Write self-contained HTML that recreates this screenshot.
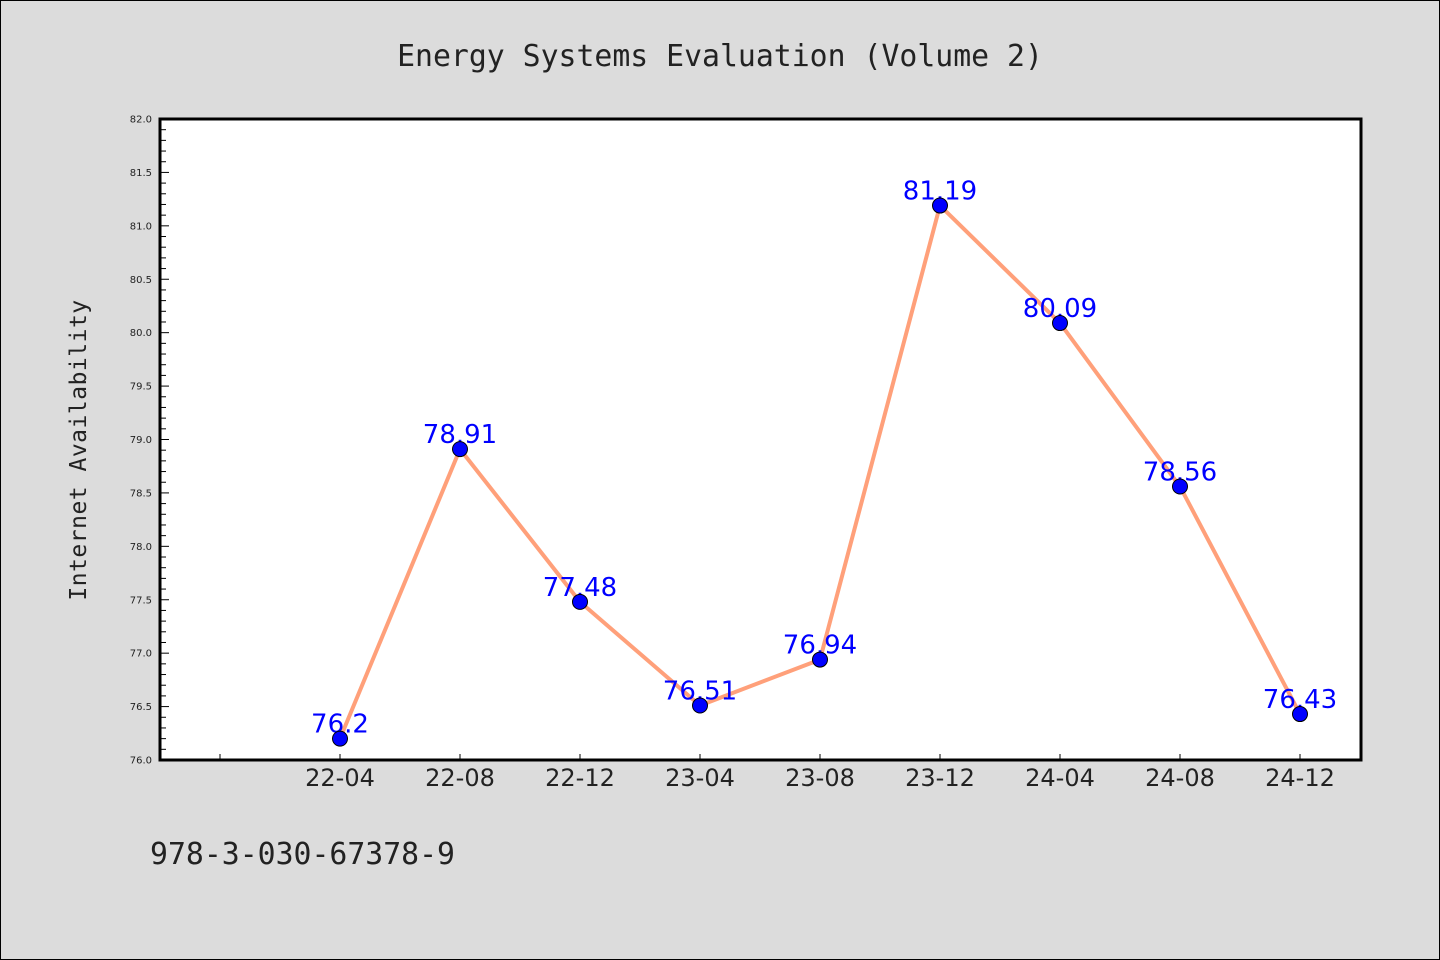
<!DOCTYPE html>
<html><head><meta charset="utf-8"><style>
body{margin:0;background:#dcdcdc;}
svg{display:block;font-family:"DejaVu Sans","Liberation Sans",sans-serif;}
</style></head><body>
<svg id="chart" width="1440" height="960">
<rect x="0.5" y="0.5" width="1439" height="959" fill="#dcdcdc" stroke="#000"/>
<text x="720" y="66" text-anchor="middle" font-size="29.8" fill="#222" font-family="'DejaVu Sans Mono','Liberation Mono',monospace">Energy Systems Evaluation (Volume 2)</text>
<rect x="160" y="119" width="1201" height="641" fill="#fff"/>
<text transform="translate(86,450) rotate(-90)" text-anchor="middle" font-size="23" fill="#222" font-family="'DejaVu Sans Mono','Liberation Mono',monospace" letter-spacing="0.5">Internet Availability</text>
<text x="150" y="864" font-size="29.8" fill="#222" font-family="'DejaVu Sans Mono','Liberation Mono',monospace">978-3-030-67378-9</text>
<g id="grid"></g>
<g id="marks"></g>
<rect x="160" y="119" width="1201" height="641" fill="none" stroke="#000" stroke-width="3"/>
</svg>
<script>
const categories=["22-04","22-08","22-12","23-04","23-08","23-12","24-04","24-08","24-12"];
const values=[76.2,78.91,77.48,76.51,76.94,81.19,80.09,78.56,76.43];
const valueLabels=["76.2","78.91","77.48","76.51","76.94","81.19","80.09","78.56","76.43"];
const yTicks=[76.0,76.5,77.0,77.5,78.0,78.5,79.0,79.5,80.0,80.5,81.0,81.5,82.0];
const yMin=76,yMax=82,plotTop=119,plotBottom=760;
const NS="http://www.w3.org/2000/svg";
function yScale(v){return plotBottom-(v-yMin)/(yMax-yMin)*(plotBottom-plotTop);}
function xScale(i){return 340+120*i;}
function mk(tag,attrs,parent){const e=document.createElementNS(NS,tag);for(const k in attrs)e.setAttribute(k,attrs[k]);parent.appendChild(e);return e;}
const g=document.getElementById('grid'),m=document.getElementById('marks');
for(let k=0;k<=60;k++){const v=yMin+k*0.1;const yy=yScale(v);const major=k%5===0;
 const t=mk('line',{x1:160,x2:160+(major?9:6),y1:yy,y2:yy,stroke:'#000','stroke-width':1},g);
 
 }
yTicks.forEach(v=>{const t=mk('text',{x:152,y:yScale(v)+3.5,'text-anchor':'end','font-size':10,fill:'#222'},g);t.textContent=v.toFixed(1);
 
 });
const t0=mk('line',{x1:220,x2:220,y1:760,y2:754,stroke:'#000'},g);


categories.forEach((c,i)=>{const t=mk('line',{x1:xScale(i),x2:xScale(i),y1:760,y2:754,stroke:'#000'},g);
 
 
 const l=mk('text',{x:xScale(i),y:786,'text-anchor':'middle','font-size':24,fill:'#222'},g);l.textContent=c;
 
 });
const pts=values.map((v,i)=>xScale(i)+','+yScale(v)).join(' ');
const pl=mk('polyline',{points:pts,fill:'none',stroke:'#ffa07a','stroke-width':4,'stroke-linejoin':'round'},m);


values.forEach((v,i)=>{
 const l=mk('text',{x:xScale(i),y:yScale(v)-6,'text-anchor':'middle','font-size':26,fill:'#0000ff'},m);l.textContent=valueLabels[i];
 
 
});
values.forEach((v,i)=>{
 const c=mk('circle',{cx:xScale(i),cy:yScale(v),r:7.5,fill:'#0000ff',stroke:'#000','stroke-width':1},m);
 
 
});
</script>
</body></html>
